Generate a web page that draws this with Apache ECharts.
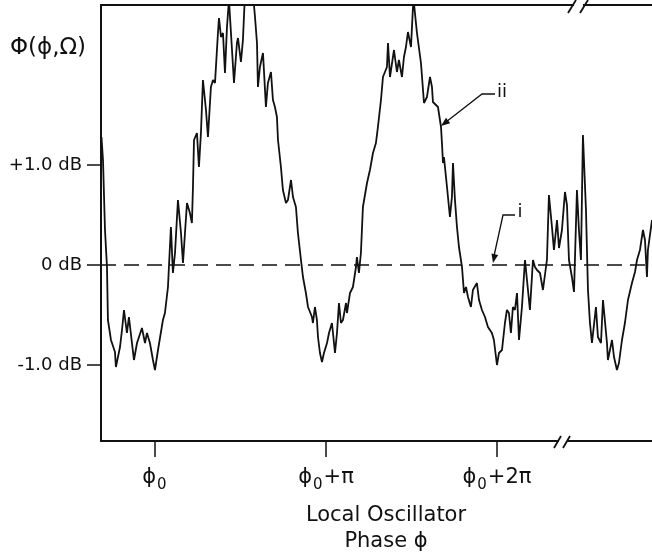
<!DOCTYPE html>
<html><head><meta charset="utf-8">
<script src="https://cdn.jsdelivr.net/npm/echarts@6/dist/echarts.min.js"></script>
<style>html,body{margin:0;padding:0;background:#fff}#c{width:652px;height:557px}</style>
</head><body><div id="c"></div>
<script>
// Local oscillator phase, degrees relative to phi0
const phaseDeg = [
-56.3,-54.7,-52.6,-50.5,-49.5,-46.3,-42.1,-41.1,-36.8,-34.7,
-32.6,-29.5,-27.4,-24.2,-22.1,-18.9,-13.7,-10.5,-8.4,-5.3,
-2.1,0,3.2,8.4,10.5,13.7,14.7,16.8,18.9,21.1,
24.2,27.4,29.5,33.7,36.8,38.9,40.0,41.1,44.2,46.3,
48.4,50.5,53.7,55.8,58.9,61.1,63.2,66.3,67.4,69.5,
71.6,73.7,75.8,77.9,81.1,83.2,86.3,87.4,90.5,92.6,
94.7,100,104.2,105.3,107.4,108.4,110.5,113.7,114.7,116.8,
118.9,122.1,124.2,126.3,128.4,129.5,132.6,134.7,137.9,140.0,
143.2,145.3,148.4,150.5,153.7,155.8,158.9,161.1,165.3,166.3,
168.4,170.5,171.6,173.7,175.8,177.9,181.1,183.2,186.3,187.4,
189.5,191.6,193.7,195.8,197.9,201.1,202.1,205.3,208.4,211.6,
212.6,214.7,216.8,218.9,223.2,226.3,229.5,232.6,234.7,237.9,
240.0,244.2,245.3,247.4,249.5,251.6,254.7,256.8,260.0,262.1,
264.2,266.3,269.5,271.6,272.6,275.8,280.0,283.2,286.3,289.5,
291.6,292.6,297.9,301.1,302.1,303.2,304.2,307.4,310.5,312.6,
313.7,315.8,317.9,320.0,323.2,325.3,327.4,329.5,332.6,334.7,
338.9,341.1,344.2,347.4,350.5,354.7,356.8,360.0,362.1,365.3,
368.4,370.5,372.6,374.7,376.8,378.9,381.1,383.2,386.3,389.5,
391.6,394.7,397.9,400.0,402.1,405.3,408.4,410.5,412.6,414.7,
417.9,420.0,423.2,425.3,428.4,431.6,433.7,435.8,438.9,441.1,
444.2,446.3,448.4,450.5,453.7,455.8,457.9,460.0,464.2,466.3,
469.5,471.6,475.8,476.8,481.1,483.2,486.3,488.4,491.6,494.7,
497.9,502.1,505.3,507.4,510.5,513.7,515.8,517.9,518.9,523.2
];
// Trace ii: noise power Phi(phi, Omega), dB relative to shot noise
const signalDb = [
1.28,1.05,0.35,-0.02,-0.55,-0.75,-0.87,-1.02,-0.82,-0.65,
-0.45,-0.68,-0.52,-0.78,-0.95,-0.78,-0.63,-0.78,-0.68,-0.78,
-0.95,-1.05,-0.85,-0.55,-0.48,-0.22,-0.02,0.38,-0.08,0.12,
0.65,0.32,0.02,0.62,0.52,0.42,0.78,1.25,1.32,0.98,
1.32,1.85,1.55,1.28,1.78,1.85,1.82,2.32,2.47,2.28,
2.32,1.92,2.38,2.65,2.15,1.82,2.22,2.27,2.03,2.25,
2.7,2.8,2.6,2.48,2.22,1.78,1.98,2.12,1.95,1.58,
1.82,1.93,1.65,1.58,1.48,1.25,0.98,0.75,0.62,0.65,
0.85,0.68,0.58,0.32,0.05,-0.12,-0.28,-0.42,-0.52,-0.58,
-0.42,-0.55,-0.72,-0.88,-0.97,-0.88,-0.78,-0.68,-0.58,-0.68,
-0.88,-0.68,-0.38,-0.58,-0.55,-0.38,-0.48,-0.28,-0.22,-0.02,
0.08,-0.08,0.12,0.58,0.82,0.95,1.12,1.22,1.38,1.65,
1.88,1.98,2.22,1.88,1.87,2.15,1.93,2.05,1.88,2.08,
2.18,2.33,2.18,2.58,2.62,2.32,2.02,1.62,1.68,1.88,
1.78,1.63,1.58,1.38,1.22,1.02,1.08,0.78,0.48,0.68,
1.02,0.65,0.38,0.18,-0.02,-0.28,-0.22,-0.32,-0.42,-0.25,
-0.18,-0.35,-0.45,-0.52,-0.62,-0.68,-0.75,-1.0,-0.88,-0.85,
-0.58,-0.45,-0.48,-0.68,-0.42,-0.45,-0.28,-0.75,-0.42,0.05,
-0.15,-0.45,0.05,-0.02,-0.05,-0.08,-0.25,-0.27,0.05,0.70,
0.38,0.15,0.45,0.17,0.35,0.73,0.60,0.05,-0.12,-0.27,
0.75,0.35,0.05,1.30,0.55,-0.25,-0.58,-0.78,-0.42,-0.72,
-0.78,-0.35,-0.78,-0.95,-0.75,-0.92,-1.05,-0.98,-0.75,-0.58,
-0.35,-0.18,-0.07,0.05,0.15,0.35,0.25,-0.12,0.15,0.45
];
// Trace i: shot-noise level (0 dB)
const shotNoisePhase = [-56.8, 523.2];
const shotNoiseDb = [0, 0];
const xTickValues = [0, 180, 360];
const xTickLabels = ['{p|ϕ}{s|0}', '{p|ϕ}{s|0}{p|+π}', '{p|ϕ}{s|0}{p|+2π}'];
const yTickValues = [-1, 0, 1];
const yTickLabels = ['-1.0 dB', '0 dB', '+1.0 dB'];
const X_MIN = -56.8, X_MAX = 523.2, Y_MIN = -1.76, Y_MAX = 2.6;

const FONT = '"DejaVu Sans", sans-serif';
const ink = '#111';
const chart = echarts.init(document.getElementById('c'));

function arrowHead(tip, from, size) {
  const dx = tip[0] - from[0], dy = tip[1] - from[1];
  const L = Math.hypot(dx, dy), ux = dx / L, uy = dy / L;
  const bx = tip[0] - ux * size, by = tip[1] - uy * size;
  return [tip, [bx - uy * size * 0.38, by + ux * size * 0.38], [bx + uy * size * 0.38, by - ux * size * 0.38]];
}
const lineStyle = { stroke: ink, lineWidth: 1.3, fill: null };

const graphics = [
  { type: 'text', x: 48, y: 48, z: 10, style: { text: 'Φ(ϕ,Ω)', font: '23px ' + FONT, fill: ink, align: 'center', verticalAlign: 'middle' } },
  { type: 'text', x: 386, y: 516, z: 10, style: { text: 'Local Oscillator', font: '21px ' + FONT, fill: ink, align: 'center', verticalAlign: 'middle' } },
  { type: 'text', x: 386, y: 542, z: 10, style: { text: 'Phase ϕ', font: '21px ' + FONT, fill: ink, align: 'center', verticalAlign: 'middle' } },
  // annotation ii
  { type: 'text', x: 502, y: 92, z: 10, style: { text: 'ii', font: '18px ' + FONT, fill: ink, align: 'center', verticalAlign: 'middle' } },
  { type: 'polyline', z: 10, shape: { points: [[495, 94], [482, 94], [446, 122]] }, style: lineStyle },
  { type: 'polygon', z: 10, shape: { points: arrowHead([441, 126], [482, 94], 9) }, style: { fill: ink } },
  // annotation i
  { type: 'text', x: 520, y: 212, z: 10, style: { text: 'i', font: '18px ' + FONT, fill: ink, align: 'center', verticalAlign: 'middle' } },
  { type: 'polyline', z: 10, shape: { points: [[515, 215], [503, 215], [494, 256]] }, style: lineStyle },
  { type: 'polygon', z: 10, shape: { points: arrowHead([493, 263], [503, 215], 9) }, style: { fill: ink } },
  // axis breaks
  { type: 'rect', z: 20, shape: { x: 574, y: 1, width: 9, height: 9 }, style: { fill: '#fff' } },
  { type: 'line', z: 21, shape: { x1: 568, y1: 13, x2: 576, y2: 0 }, style: { stroke: ink, lineWidth: 1.8 } },
  { type: 'line', z: 21, shape: { x1: 580, y1: 13, x2: 588, y2: 0 }, style: { stroke: ink, lineWidth: 1.8 } },
  { type: 'rect', z: 20, shape: { x: 559, y: 437, width: 8, height: 8 }, style: { fill: '#fff' } },
  { type: 'line', z: 21, shape: { x1: 554, y1: 448, x2: 561, y2: 436 }, style: { stroke: ink, lineWidth: 1.8 } },
  { type: 'line', z: 21, shape: { x1: 563, y1: 448, x2: 570, y2: 436 }, style: { stroke: ink, lineWidth: 1.8 } }
];

const option = {
  animation: false,
  backgroundColor: '#fff',
  grid: { left: 101, right: 0, top: 5, bottom: 116 },
  xAxis: [
    {
      type: 'value', min: X_MIN, max: X_MAX, position: 'bottom',
      axisLine: { onZero: false, lineStyle: { color: ink, width: 2 } },
      axisTick: { customValues: xTickValues, length: 16, lineStyle: { color: ink, width: 1.5 } },
      axisLabel: {
        customValues: xTickValues, margin: 26,
        formatter: v => xTickLabels[xTickValues.indexOf(v)],
        rich: {
          p: { fontFamily: FONT, fontSize: 21, color: ink, verticalAlign: 'top', lineHeight: 24 },
          s: { fontFamily: FONT, fontSize: 15, color: ink, verticalAlign: 'top', lineHeight: 24, padding: [11, 1, 0, 1] }
        }
      },
      splitLine: { show: false }
    },
    {
      type: 'value', min: X_MIN, max: X_MAX, position: 'top',
      axisLine: { show: true, onZero: false, lineStyle: { color: ink, width: 2 } },
      axisTick: { show: false }, axisLabel: { show: false }, splitLine: { show: false }
    }
  ],
  yAxis: {
    type: 'value', min: Y_MIN, max: Y_MAX,
    axisLine: { show: true, onZero: false, lineStyle: { color: ink, width: 2 } },
    axisTick: { show: true, customValues: yTickValues, length: 14, lineStyle: { color: ink, width: 1.5 } },
    axisLabel: {
      customValues: yTickValues, margin: 19, fontFamily: FONT, fontSize: 18, color: ink,
      formatter: v => yTickLabels[yTickValues.indexOf(v)]
    },
    splitLine: { show: false }
  },
  series: [
    {
      name: 'ii', type: 'line', xAxisIndex: 0, showSymbol: false, clip: true,
      data: phaseDeg.map((x, i) => [x, signalDb[i]]),
      lineStyle: { color: ink, width: 1.8 }
    },
    {
      name: 'i', type: 'line', xAxisIndex: 0, showSymbol: false,
      data: shotNoisePhase.map((x, i) => [x, shotNoiseDb[i]]),
      lineStyle: { color: ink, width: 1.6, type: [15, 8] }
    }
  ],
  graphic: graphics
};
chart.setOption(option);
</script>
</body></html>
